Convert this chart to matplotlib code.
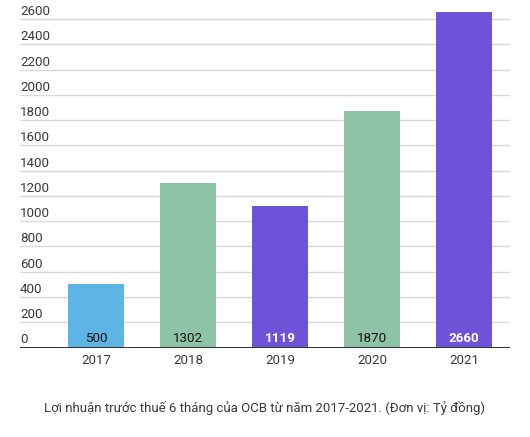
import matplotlib
matplotlib.use("Agg")
import matplotlib.pyplot as plt
import matplotlib.transforms as mtransforms

years = ["2017", "2018", "2019", "2020", "2021"]
values = [500, 1302, 1119, 1870, 2660]
colors = ["#5db5e5", "#8ec3a7", "#6c53d8", "#8ec3a7", "#6c53d8"]
label_colors = ["#111111", "#111111", "#ffffff", "#111111", "#ffffff"]
label_weights = ["normal", "normal", "bold", "normal", "bold"]
yticks = list(range(0, 2601, 200))
caption = "Lợi nhuận trước thuế 6 tháng của OCB từ năm 2017-2021. (Đơn vị: Tỷ đồng)"

plt.rcParams["font.family"] = ["Roboto", "DejaVu Sans"]

fig = plt.figure(figsize=(5.30, 4.37), dpi=100)
ax = fig.add_axes([20 / 530, 89.5 / 437, 490 / 530, 340.5 / 437])

x = list(range(len(years)))
ax.bar(x, values, width=0.61, color=colors, zorder=2)
ax.set_xlim(-0.826, 4.5)
ax.set_ylim(0, 2697)

for yv in yticks[1:]:
    ax.axhline(yv, color="#d9d9d9", lw=1.0, zorder=1)
ax.axhline(0, color="#333333", lw=2.2, zorder=3)

off = mtransforms.offset_copy(ax.get_yaxis_transform(), fig=fig, x=0, y=3.0, units="points")
for yv in yticks:
    ax.text(0, yv, str(yv), transform=off, ha="left", va="baseline",
            fontsize=9.6, color="#3a3a3a")

for xi, v, lc, lw in zip(x, values, label_colors, label_weights):
    ax.text(xi, 0, str(v), ha="center", va="center", fontsize=9.6,
            color=lc, fontweight=lw,
            transform=mtransforms.offset_copy(ax.transData, fig=fig, x=0, y=6.3, units="points"))

for xi, yr in zip(x, years):
    ax.text(xi, 0, yr, ha="center", va="center", fontsize=9.6, color="#3a3a3a",
            transform=mtransforms.offset_copy(ax.transData, fig=fig, x=0, y=-9.4, units="points"))

ax.set_xticks([])
ax.set_yticks([])
for s in ax.spines.values():
    s.set_visible(False)

fig.text(264 / 530, 1 - 408.3 / 437, caption, ha="center", va="center",
         fontsize=9.5, color="#3a3a3a")

fig.savefig("out.png", dpi=100)
